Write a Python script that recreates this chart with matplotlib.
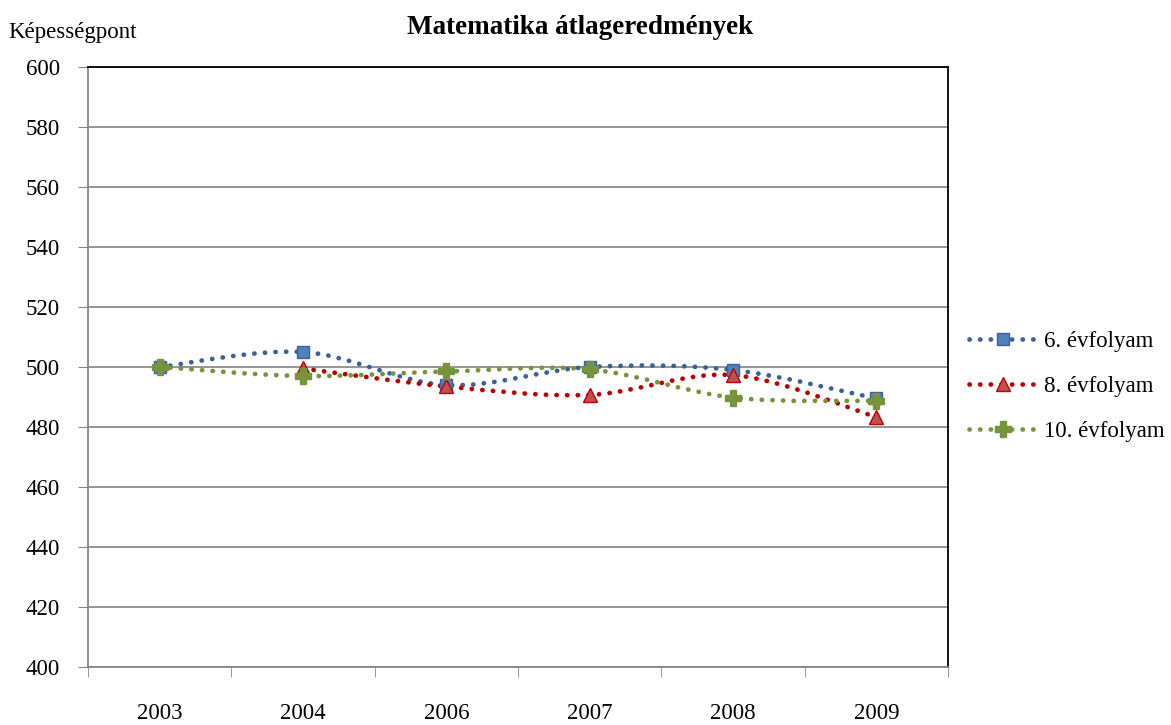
import matplotlib

matplotlib.use("Agg")
import matplotlib.pyplot as plt
import numpy as np
from matplotlib.lines import Line2D
from matplotlib.patches import PathPatch
from matplotlib.path import Path

years = ["2003", "2004", "2006", "2007", "2008", "2009"]
grade6 = [500, 505, 494, 500, 499, 489.5]
grade8 = [None, 499.5, 493.5, 490.7, 497.3, 483.3]
grade10 = [500, 497, 498.5, 499.2, 489.8, 488.7]
labels = ["6. évfolyam", "8. évfolyam", "10. évfolyam"]

plt.rcParams["font.family"] = ["Liberation Serif", "DejaVu Serif"]


def smooth_path(xs, ys):
    # Excel-style smoothed line: Catmull-Rom segments as cubic Bezier curves
    pts = np.column_stack([xs, ys]).astype(float)
    verts = [pts[0]]
    codes = [Path.MOVETO]
    for i in range(len(pts) - 1):
        p0 = pts[i - 1] if i > 0 else pts[i]
        p1, p2 = pts[i], pts[i + 1]
        p3 = pts[i + 2] if i + 2 < len(pts) else pts[i + 1]
        verts += [p1 + (p2 - p0) / 6, p2 - (p3 - p1) / 6, p2]
        codes += [Path.CURVE4] * 3
    return Path(verts, codes)


series = [
    (grade6, "#3A6198", dict(marker="s", markersize=8, markerfacecolor="#4F81BD", markeredgecolor="#3A6198")),
    (grade8, "#C00000", dict(marker="^", markersize=10, markerfacecolor="#C0504D", markeredgecolor="#C00000")),
    (grade10, "#77933C", dict(marker="P", markersize=11, markerfacecolor="#77933C", markeredgecolor="#77933C")),
]
dots = (0, (0.05, 2.2))

fig = plt.figure(figsize=(11.71, 7.25), dpi=100)
ax = fig.add_axes([0.0751, 0.08, 0.7345, 0.8276])

handles = []
for values, color, mk in series:
    xs = [i for i, v in enumerate(values) if v is not None]
    ys = [v for v in values if v is not None]
    patch = PathPatch(smooth_path(xs, ys), facecolor="none", edgecolor=color, lw=3.4,
                      linestyle=dots, capstyle="round", zorder=3)
    ax.add_patch(patch)
    ax.plot(xs, ys, linestyle="none", zorder=4, **mk)
    handles.append(Line2D([], [], color=color, lw=3.4, linestyle=dots,
                          dash_capstyle="round", **mk))

ax.set_xlim(-0.5, len(years) - 0.5)
ax.set_ylim(400, 600)
ax.set_yticks(np.arange(400, 601, 20))
ax.set_xticks(range(len(years)))
ax.set_xticklabels(years)
ax.set_xticks(np.arange(-0.5, len(years), 1), minor=True)
ax.tick_params(axis="x", which="major", length=0, pad=26, labelsize=16.5)
ax.tick_params(axis="x", which="minor", length=7, color="#868686", direction="out")
ax.tick_params(axis="y", length=7, color="#868686", direction="out", labelsize=16.5, pad=13)
ax.grid(axis="y", color="#8C8C8C", lw=1.3, zorder=0)
for side in ["top", "right"]:
    ax.spines[side].set_color("black")
    ax.spines[side].set_linewidth(1.3)
for side in ["left", "bottom"]:
    ax.spines[side].set_color("#868686")
    ax.spines[side].set_linewidth(1.3)

fig.text(0.495, 0.962, "Matematika átlageredmények", ha="center", va="center",
         fontsize=19.5, fontweight="bold")
fig.text(0.007, 0.955, "Képességpont", ha="left", va="center", fontsize=16.5)

ax.legend(handles, labels, loc="center left", bbox_to_anchor=(1.008, 0.467), frameon=False,
          fontsize=16.5, handlelength=3.0, labelspacing=1.05, handletextpad=0.3,
          borderaxespad=0.2)

fig.savefig("out.png", dpi=100)
